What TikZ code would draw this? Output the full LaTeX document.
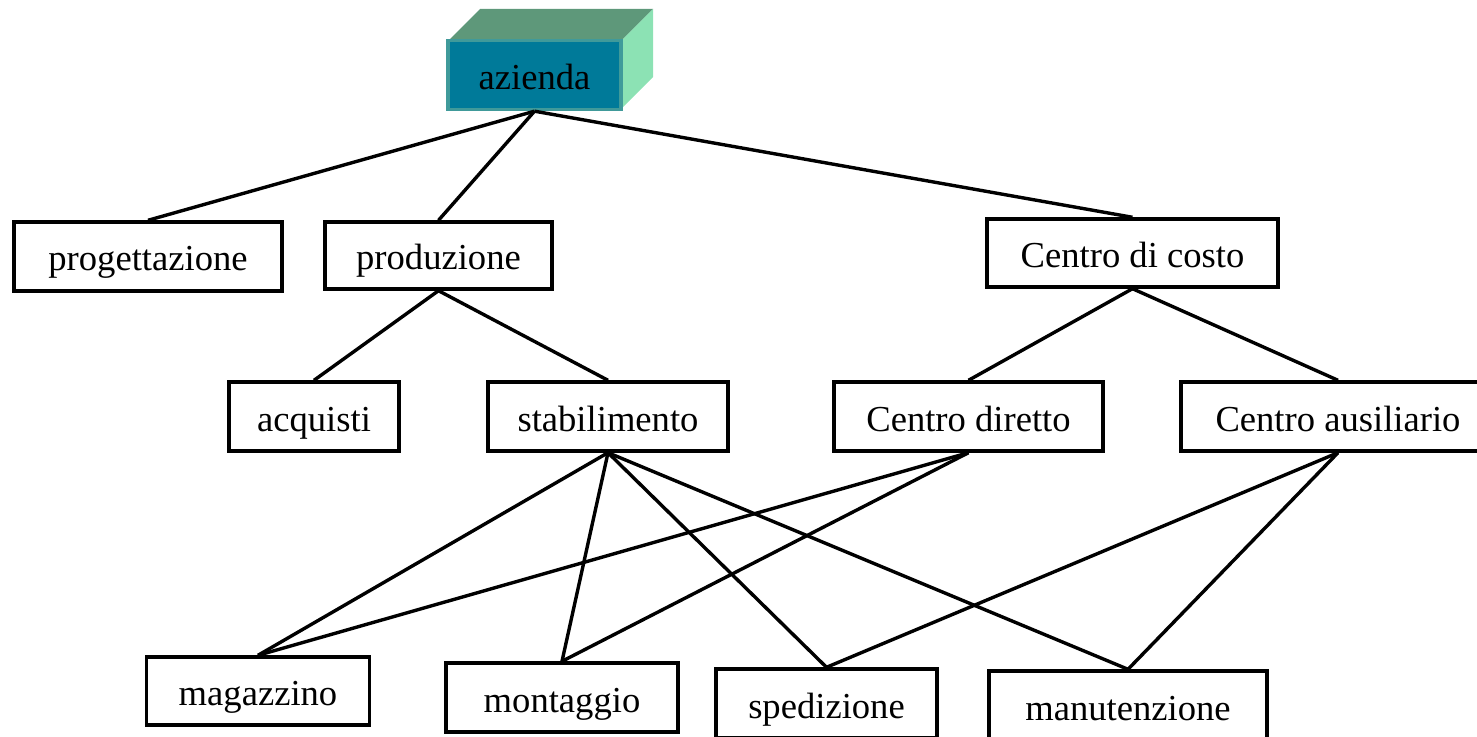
\documentclass[tikz,border=0pt]{standalone}
\usepackage{fontspec}
\setmainfont{Liberation Serif}
\definecolor{frontblue}{RGB}{0,122,153}
\definecolor{edgeteal}{RGB}{64,154,154}
\definecolor{topgreen}{RGB}{94,152,122}
\definecolor{sidegreen}{RGB}{140,226,180}
\tikzset{
  unitbox/.style={draw, line width=1.7pt, inner sep=0pt, minimum height=34.5pt, fill=white,
    text height=18.5pt, text depth=4pt, font=\fontsize{18.3}{22}\selectfont},
  link/.style={line width=1.7pt},
}

\begin{document}
\begin{tikzpicture}[x=0.5pt, y=-0.5pt]
  \useasboundingbox (0,0) rectangle (1477,737);

  % 3D block on top
  \coordinate (aznw) at (448,41);
  \fill[topgreen] (aznw) -- ++(32,-32) -- ++(173,0) -- ++(-32,32) -- cycle;
  \fill[sidegreen] (aznw) ++(173,0) -- ++(32,-32) -- ++(0,68) -- ++(-32,32) -- cycle;
  \node[unitbox, fill=frontblue, draw=edgeteal, minimum width=86.5pt] (azienda) at (534.5,75) {azienda};

  % level 1
  \node[unitbox, minimum width=134pt] (progettazione) at (148,256.5) {progettazione};
  \node[unitbox, minimum width=113.5pt, minimum height=33.5pt] (produzione) at (438.5,255.5) {produzione};
  \node[unitbox, minimum width=145.5pt, minimum height=34pt] (costo) at (1132.5,253) {Centro di costo};

  % level 2
  \node[unitbox, minimum width=85pt] (acquisti) at (314,416.5) {acquisti};
  \node[unitbox, minimum width=120pt] (stabilimento) at (608,416.5) {stabilimento};
  \node[unitbox, minimum width=134.5pt] (diretto) at (968.5,416.5) {Centro diretto};
  \node[unitbox, minimum width=157pt] (ausiliario) at (1338,416.5) {Centro ausiliario};

  % level 3
  \node[unitbox, minimum width=111.5pt, minimum height=34pt] (magazzino) at (258,691) {magazzino};
  \node[unitbox, minimum width=116pt] (montaggio) at (562,697.5) {montaggio};
  \node[unitbox, minimum width=110.5pt] (spedizione) at (826.5,703.5) {spedizione};
  \node[unitbox, minimum width=139pt] (manutenzione) at (1128,705.5) {manutenzione};

  % connectors
  \foreach \a/\b in {azienda/progettazione, azienda/produzione, azienda/costo,
                     produzione/acquisti, produzione/stabilimento,
                     costo/diretto, costo/ausiliario,
                     stabilimento/magazzino, stabilimento/montaggio,
                     stabilimento/spedizione, stabilimento/manutenzione,
                     diretto/magazzino, diretto/montaggio,
                     ausiliario/spedizione, ausiliario/manutenzione}
    \draw[link] (\a.south) -- (\b.north);
\end{tikzpicture}
\end{document}
